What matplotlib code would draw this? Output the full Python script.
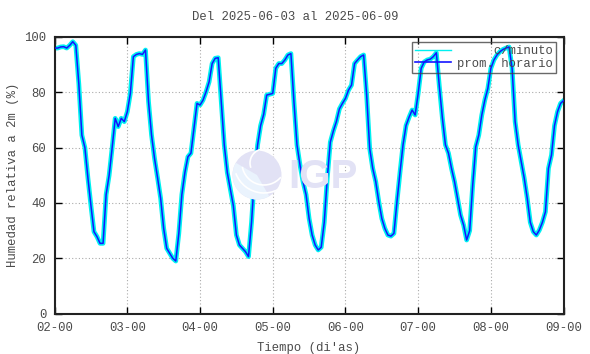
import numpy as np
import matplotlib
matplotlib.use('Agg')
import matplotlib.pyplot as plt
from matplotlib.patches import Circle, Wedge, Arc
from matplotlib.lines import Line2D

# hourly humidity (%), one list per day (hour 0..23)
d02 = [96, 96, 96.4, 96.5, 96, 97, 98.3, 97, 83, 64.5, 60, 49,
       39, 29.6, 27.8, 25.4, 25.4, 43, 50, 60, 70.6, 67.6, 70.6, 69.4]
d03 = [73, 79.6, 92.9, 93.7, 94, 93.7, 95.3, 76.6, 64.5, 56, 49, 41.7,
       30.8, 23.6, 21.8, 20, 19, 29, 43, 51, 56.7, 58, 67, 76]
d04 = [75.4, 77.2, 80.2, 83.8, 90.4, 92.3, 92.5, 76.6, 61, 51, 45, 39,
       28.4, 24.8, 23.6, 22.4, 20.6, 33, 50, 61, 68, 72, 79, 79.3]
d05 = [79.6, 88.7, 90.4, 90.4, 91.7, 93.5, 94, 76.6, 61, 53.7, 47.7, 43,
       34.4, 28.4, 24.8, 23, 24, 33, 49, 62, 66, 69.4, 74, 76]
d06 = [77.8, 80.8, 82.6, 90.4, 91.7, 92.9, 93.5, 79, 59.7, 52.5, 47.7, 40.5,
       34.4, 30.8, 28.4, 28, 29, 40.5, 51, 61, 68, 71, 73.6, 71.8]
d07 = [79.6, 88.7, 91, 91.7, 92, 92.9, 94.3, 82, 70.6, 61, 58, 52.5,
       47.7, 41.7, 35.6, 32, 26.6, 30, 46.5, 60.3, 64.5, 71.8, 77.2, 81.4]
d08 = [88.7, 91.7, 93.5, 94.7, 95.5, 96, 96.4, 88.7, 69.4, 61, 55, 49,
       41.7, 33, 29.6, 28.4, 30.2, 33, 36.8, 52.5, 57.3, 68, 73, 76]
d09 = [77]

first_day = 2
tick_days = [2, 3, 4, 5, 6, 7, 8, 9]
tick_labels = ['02-00', '03-00', '04-00', '05-00', '06-00', '07-00', '08-00', '09-00']
yticks = [0, 20, 40, 60, 80, 100]

hum = np.array(d02 + d03 + d04 + d05 + d06 + d07 + d08 + d09)
t = first_day + np.arange(len(hum)) / 24.0

mono = ['Liberation Mono', 'DejaVu Sans Mono']
txt = '#4a4a4a'
fs = 8.8

fig = plt.figure(figsize=(5.9, 3.54), dpi=100)
ax = fig.add_axes([54.6 / 590, 40.4 / 354, 509 / 590, 276.6 / 354])

# IGP watermark
wm = fig.dpi_scale_trans
cx, cy, r = 2.57, 1.79, 0.245
fig.patches.append(Circle((cx, cy), r, transform=wm, facecolor='#e2e2f5',
                          edgecolor='none', zorder=0))
fig.patches.append(Wedge((cx, cy), r, 150, 300, transform=wm, facecolor='#eaf3fd',
                         edgecolor='none', zorder=0))
for rr, a1, a2 in [(0.30, 200, 330), (0.22, 190, 320), (0.14, 40, 200)]:
    fig.patches.append(Arc((cx + 0.07, cy + 0.12), rr * 2, rr * 2, theta1=a1, theta2=a2,
                           transform=wm, color='white', lw=1.2, zorder=0))
fig.text(288 / 590, 1 - 177 / 354, 'IGP', fontsize=29, fontweight='bold',
         family='Liberation Sans', color='#e2e2f5', va='center', ha='left', zorder=0)
ax.set_facecolor('none')

ax.plot(t, hum, color='#00f0f0', lw=3.4, zorder=2, solid_joinstyle='round')
ax.plot(t, hum, color='#1414ff', lw=1.1, zorder=3)

ax.set_xlim(2, 9)
ax.set_ylim(0, 100)
ax.set_xticks(tick_days)
ax.set_xticklabels(tick_labels)
ax.set_yticks(yticks)
ax.grid(True, color='#aaaaaa', linestyle=(0, (1, 2)), linewidth=0.8)
ax.tick_params(direction='in', top=True, right=True, length=5, width=1,
               labelsize=fs, labelcolor=txt, pad=6)
for lab in ax.get_xticklabels() + ax.get_yticklabels():
    lab.set_family(mono)
for s in ax.spines.values():
    s.set_linewidth(1.5)
    s.set_color('#222222')

ax.set_xlabel("Tiempo (di'as)", family=mono, fontsize=fs, color=txt, labelpad=6)
ax.set_ylabel('Humedad relativa a 2m (%)', family=mono, fontsize=fs, color=txt, labelpad=4)
fig.text(0.5, 1 - 17 / 354, 'Del 2025-06-03 al 2025-06-09', family=mono,
         fontsize=fs, color=txt, ha='center', va='center')

handles = [Line2D([], [], color='#00f0f0', lw=1),
           Line2D([], [], color='#1414ff', lw=1.2)]
leg = ax.legend(handles, ['     c/minuto', 'prom. horario'], loc='upper right',
                bbox_to_anchor=(0.985, 0.982), borderaxespad=0, fancybox=False,
                prop={'family': mono, 'size': fs}, handlelength=2.9,
                handletextpad=0.5, borderpad=0.25, labelspacing=0.05)
leg.get_frame().set_edgecolor('#444444')
leg.get_frame().set_linewidth(1)
leg.get_frame().set_facecolor('none')
for tx in leg.get_texts():
    tx.set_color(txt)

fig.savefig('out.png', dpi=100)
